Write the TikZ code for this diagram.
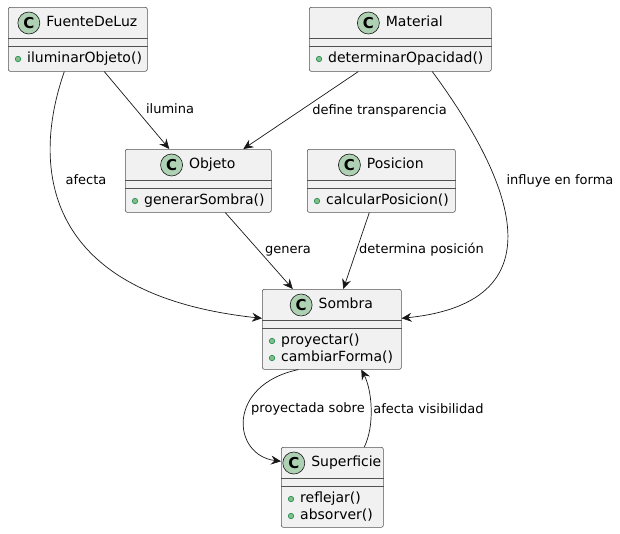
\documentclass[tikz,border=0pt]{standalone}
\usepackage{fontspec}
\setmainfont{DejaVu Sans}
\usetikzlibrary{arrows.meta,positioning}
\definecolor{fondo}{HTML}{F1F1F1}
\definecolor{borde}{HTML}{181818}
\definecolor{verdeicono}{HTML}{ADD1B2}
\definecolor{puntoverde}{HTML}{84BE84}
\definecolor{bordeverde}{HTML}{038048}

\begin{document}
\begin{tikzpicture}
  [x=1pt, y=-1pt,
   clase/.style={draw=borde!75, fill=fondo, rounded corners=2pt, line width=0.6pt, inner sep=0pt, anchor=north west},
   linea/.style={draw=borde!75, line width=0.6pt},
   titulo/.style={font=\fontsize{14}{16}\selectfont, inner sep=0pt, text height=10pt, text depth=3pt},
   icono/.style={circle, fill=verdeicono, draw=borde, line width=0.6pt, minimum size=22pt, inner sep=0pt, font=\fontsize{15}{16}\selectfont\bfseries},
   metodo/.style={font=\fontsize{14}{16}\selectfont, inner sep=0pt, anchor=west, text height=10pt, text depth=3pt},
   punto/.style={circle, fill=puntoverde, draw=bordeverde, line width=0.5pt, minimum size=5.5pt, inner sep=0pt},
   flecha/.style={draw=borde, line width=0.7pt, -{Stealth[length=10pt, width=9pt, inset=3.5pt]}},
   etiqueta/.style={font=\fontsize{13}{15}\selectfont, inner sep=0pt}]

  \useasboundingbox (0,0) rectangle (620,533);

  % Clases
  \foreach \id/\x/\y/\w/\h/\nombre in {
      fuente/8/7/139/64/FuenteDeLuz,
      material/309/7/182/64/Material,
      objeto/125/149/146/63/Objeto,
      posicion/307/149/148/63/Posicion,
      sombra/262/289/139/80/Sombra,
      superficie/281/447/102/80/Superficie}
  {
    \node[clase, minimum width=\w pt, minimum height=\h pt] (\id) at (\x,\y) {};
    \draw[linea] ([yshift=-31]\id.north west) -- ([yshift=-31]\id.north east);
    \draw[linea] ([yshift=-39]\id.north west) -- ([yshift=-39]\id.north east);
    \node[titulo] (\id-t) at ([xshift=14, yshift=-16]\id.north) {\nombre};
    \node[icono, left=6pt of \id-t] (\id-c) {C};
  }

  % Metodos
  \foreach \id/\fila/\texto in {
      fuente/52/iluminarObjeto(),
      material/52/determinarOpacidad(),
      objeto/52/generarSombra(),
      posicion/52/calcularPosicion(),
      sombra/52/proyectar(),
      sombra/69/cambiarForma(),
      superficie/52/reflejar(),
      superficie/69/absorver()}
  {
    \node[punto] (\id-p\fila) at ([xshift=10, yshift=-\fila]\id.north west) {};
    \node[metodo] (\id-m\fila) at ([xshift=19, yshift=-\fila]\id.north west) {\texto};
  }

  % Relaciones
  \draw[flecha] ([xshift=26.5]fuente.south) -- ([xshift=-29]objeto.north);
  \draw[flecha] ([xshift=-13.5]fuente.south) .. controls (30,170) and (45,295) .. ([yshift=11]sombra.west);
  \draw[flecha] ([xshift=-42]material.south) -- ([xshift=45]objeto.north);
  \draw[flecha] ([xshift=32]material.south) .. controls (490,150) and (580,300) .. ([yshift=11]sombra.east);
  \draw[flecha] ([xshift=27]objeto.south) -- ([xshift=-39]sombra.north);
  \draw[flecha] ([xshift=-12]posicion.south) -- ([xshift=11.5]sombra.north);
  \draw[flecha] ([xshift=-33.5]sombra.south) .. controls (226,385) and (232,455) .. ([yshift=26]superficie.west);
  \draw[flecha] ([xshift=32]superficie.north) .. controls (375,425) and (372,390) .. ([xshift=29.5]sombra.south);

  % Etiquetas
  \node[etiqueta] (e-ilumina) at (170,109) {ilumina};
  \node[etiqueta] (e-afecta) at (86,180) {afecta};
  \node[etiqueta] (e-define) at (379.5,111) {define transparencia};
  \node[etiqueta] (e-influye) at (560,181) {influye en forma};
  \node[etiqueta] (e-genera) at (288,251) {genera};
  \node[etiqueta] (e-determina) at (421.5,250) {determina posición};
  \node[etiqueta] (e-proyectada) at (308,409) {proyectada sobre};
  \node[etiqueta] (e-visibilidad) at (428.5,409) {afecta visibilidad};
\end{tikzpicture}
\end{document}
